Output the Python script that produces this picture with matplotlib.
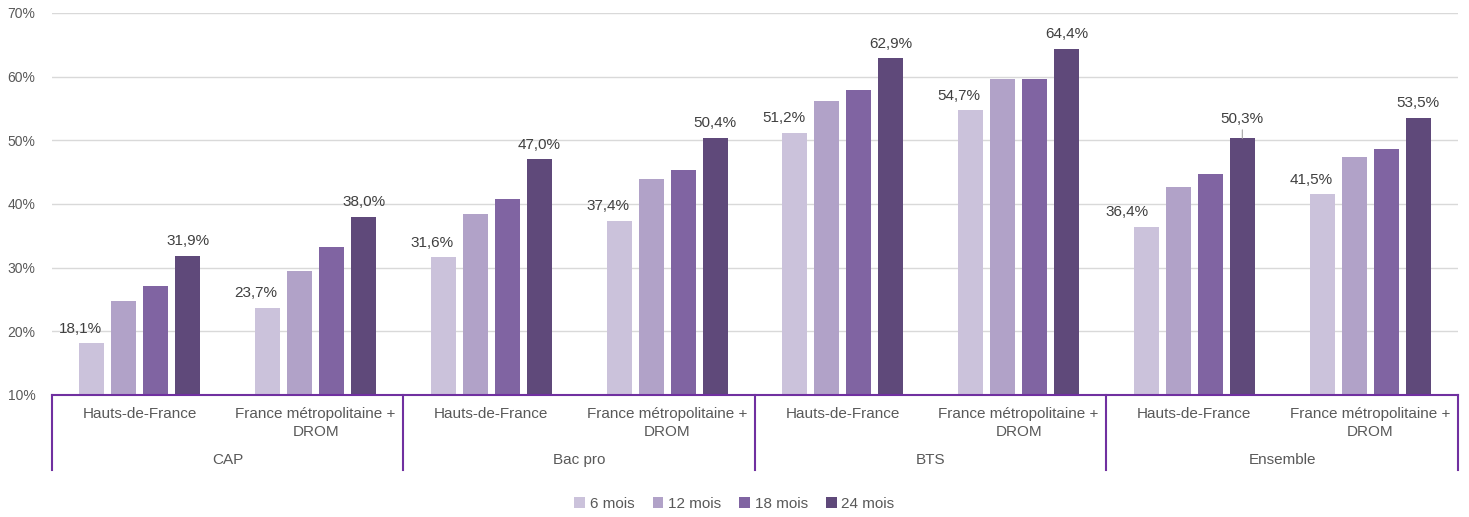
import matplotlib
matplotlib.use("Agg")
import matplotlib.pyplot as plt
import matplotlib.transforms as mtransforms
import numpy as np

plt.rcParams['font.family'] = ['Liberation Sans', 'DejaVu Sans']

groups = ["CAP", "Bac pro", "BTS", "Ensemble"]
subcats = ["Hauts-de-France", "France métropolitaine +\nDROM"]
series = ["6 mois", "12 mois", "18 mois", "24 mois"]
colors = ["#CBC2DB", "#B1A2C8", "#8064A2", "#5F497A"]

# values per category in order: CAP HdF, CAP FM, Bac pro HdF, Bac pro FM, BTS HdF, BTS FM, Ens HdF, Ens FM
v6 = [18.1, 23.7, 31.6, 37.4, 51.2, 54.7, 36.4, 41.5]
v12 = [24.8, 29.5, 38.4, 43.9, 56.2, 59.6, 42.7, 47.4]
v18 = [27.1, 33.2, 40.8, 45.3, 57.9, 59.7, 44.7, 48.6]
v24 = [31.9, 38.0, 47.0, 50.4, 62.9, 64.4, 50.3, 53.5]
values = [v6, v12, v18, v24]
labeled = [True, False, False, True]

fig = plt.figure(figsize=(14.69, 5.17), dpi=100)
ax = fig.add_axes([0.0354, 0.236, 0.9571, 0.7389])

n = len(v6)
x = np.arange(n)
step = 0.182
width = 0.142
txtc = "#404040"
fs = 11
for i, (vals, c) in enumerate(zip(values, colors)):
    pos = x + (i - 1.5) * step
    ax.bar(pos, np.array(vals) - 10, bottom=10, width=width, color=c, label=series[i], zorder=3)
    if labeled[i]:
        for j, (p, v) in enumerate(zip(pos, vals)):
            s = f"{v:.1f}%".replace(".", ",")
            if i == 0:
                dx = -0.11 if j == 6 else -0.065
                ax.text(p + dx, v + 1.2, s, ha="center", va="bottom", fontsize=fs, color=txtc)
            elif j == 6:
                ax.annotate(s, xy=(p, v), xytext=(p, v + 2.0), ha="center", va="bottom",
                            fontsize=fs, color=txtc,
                            arrowprops=dict(arrowstyle="-", color="#A6A6A6", lw=0.8, shrinkA=1, shrinkB=0))
            else:
                ax.text(p, v + 1.2, s, ha="center", va="bottom", fontsize=fs, color=txtc)

ax.set_xlim(-0.5, n - 0.5)
ax.set_ylim(10, 70)
ax.set_yticks(np.arange(10, 71, 10))
ax.set_yticklabels([f"{t}%" for t in range(10, 71, 10)], fontsize=10, color="#595959")
ax.yaxis.grid(True, color="#D9D9D9", lw=1, zorder=0)
ax.set_axisbelow(True)
ax.tick_params(axis="y", length=0, pad=12)
ax.set_xticks([])
for sp in ["top", "right", "left"]:
    ax.spines[sp].set_visible(False)
ax.spines["bottom"].set_color("#7030A0")
ax.spines["bottom"].set_linewidth(1.5)
ax.spines["bottom"].set_zorder(4)

trans = mtransforms.blended_transform_factory(ax.transData, ax.transAxes)
purple = "#7030A0"
for b in np.arange(-0.5, n, 2):
    ax.plot([b, b], [0, -0.197], transform=trans, color=purple, lw=1.5, clip_on=False)

for j in range(n):
    ax.text(x[j], -0.032, subcats[j % 2], transform=trans, ha="center", va="top",
            fontsize=fs, color="#595959", linespacing=1.3)
for g, name in enumerate(groups):
    ax.text(2 * g + 0.5, -0.17, name, transform=trans, ha="center", va="center",
            fontsize=fs, color="#595959")

leg = fig.legend(loc="center", bbox_to_anchor=(0.5, 0.025), ncol=4, frameon=False,
                 fontsize=fs, handlelength=0.7, handleheight=0.7, handletextpad=0.3,
                 columnspacing=1.2)
for t in leg.get_texts():
    t.set_color("#595959")

fig.savefig("out.png", dpi=100)
